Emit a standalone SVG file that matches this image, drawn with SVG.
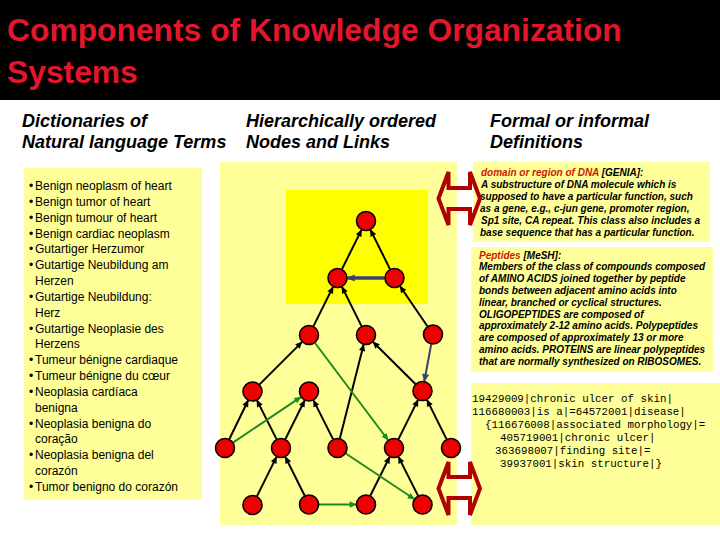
<svg xmlns="http://www.w3.org/2000/svg" width="720" height="540" viewBox="0 0 720 540">
<defs>
<style>
.title{font-family:"Liberation Sans",Arial,sans-serif;font-weight:bold;font-size:31.8px;fill:#e3162c}
.hdr{font-family:"Liberation Sans",Arial,sans-serif;font-weight:bold;font-style:italic;font-size:18px;fill:#000}
.lst{font-family:"Liberation Sans",Arial,sans-serif;font-size:12px;fill:#000}
.def{font-family:"Liberation Sans",Arial,sans-serif;font-weight:bold;font-style:italic;font-size:10px;fill:#000}
.defr{fill:#cc1a00}
.mono{font-family:"Liberation Mono","Courier New",monospace;font-size:10.8px;fill:#000}
.panel{fill:#ffff99}
.e{stroke:#000;stroke-width:2;fill:none;marker-end:url(#ak)}
.g{stroke:#1e8a1e;stroke-width:2;fill:none;marker-end:url(#ag)}
.b{stroke:#3c4070;stroke-width:2;fill:none;marker-end:url(#ab)}
.node circle{fill:#ee0000;stroke:#000;stroke-width:1.6}
.dbl{fill:none;stroke:#b00000;stroke-width:4;stroke-linejoin:miter}
</style>
<marker id="ak" viewBox="0 0 10 10" refX="9" refY="5" markerWidth="8" markerHeight="7" markerUnits="userSpaceOnUse" orient="auto"><path d="M0,0.5 L10,5 L0,9.5 z" fill="#000"/></marker>
<marker id="ag" viewBox="0 0 10 10" refX="9" refY="5" markerWidth="8" markerHeight="7" markerUnits="userSpaceOnUse" orient="auto"><path d="M0,0.5 L10,5 L0,9.5 z" fill="#1e8a1e"/></marker>
<marker id="ab" viewBox="0 0 10 10" refX="9" refY="5" markerWidth="9" markerHeight="8" markerUnits="userSpaceOnUse" orient="auto"><path d="M0,0.5 L10,5 L0,9.5 z" fill="#3c4070"/></marker>
</defs>
<rect x="0" y="0" width="720" height="540" fill="#fff"/>
<rect x="0" y="0" width="720" height="100" fill="#000"/>
<text class="title" x="7" y="41">Components of Knowledge Organization</text>
<text class="title" x="7" y="83">Systems</text>

<g id="headers">
<text class="hdr" x="22" y="127">Dictionaries of</text>
<text class="hdr" x="22" y="148">Natural language Terms</text>
<text class="hdr" x="246" y="127">Hierarchically ordered</text>
<text class="hdr" x="246" y="148">Nodes and Links</text>
<text class="hdr" x="490" y="127">Formal or informal</text>
<text class="hdr" x="490" y="148">Definitions</text>
</g>

<g id="terms">
<rect class="panel" x="24" y="168" width="178" height="332"/>
<g class="lst">
<text x="29" y="190">•</text><text x="35" y="190">Benign neoplasm of heart</text>
<text x="29" y="205.8">•</text><text x="35" y="205.8">Benign tumor of heart</text>
<text x="29" y="221.7">•</text><text x="35" y="221.7">Benign tumour of heart</text>
<text x="29" y="237.5">•</text><text x="35" y="237.5">Benign cardiac neoplasm</text>
<text x="29" y="253.4">•</text><text x="35" y="253.4">Gutartiger Herzumor</text>
<text x="29" y="269.2">•</text><text x="35" y="269.2">Gutartige Neubildung am</text>
<text x="35" y="285">Herzen</text>
<text x="29" y="300.9">•</text><text x="35" y="300.9">Gutartige Neubildung:</text>
<text x="35" y="316.7">Herz</text>
<text x="29" y="332.6">•</text><text x="35" y="332.6">Gutartige Neoplasie des</text>
<text x="35" y="348.4">Herzens</text>
<text x="29" y="364.2">•</text><text x="35" y="364.2">Tumeur bénigne cardiaque</text>
<text x="29" y="380.1">•</text><text x="35" y="380.1">Tumeur bénigne du cœur</text>
<text x="29" y="395.9">•</text><text x="35" y="395.9">Neoplasia cardíaca</text>
<text x="35" y="411.8">benigna</text>
<text x="29" y="427.6">•</text><text x="35" y="427.6">Neoplasia benigna do</text>
<text x="35" y="443.4">coração</text>
<text x="29" y="459.3">•</text><text x="35" y="459.3">Neoplasia benigna del</text>
<text x="35" y="475.1">corazón</text>
<text x="29" y="491">•</text><text x="35" y="491">Tumor benigno do corazón</text>
</g>
</g>

<g id="tree-panel">
<rect class="panel" x="220" y="162" width="237" height="363"/>
<rect x="286" y="190" width="142" height="114" fill="#ffff00"/>
</g>

<g id="def-genia">
<rect class="panel" x="473" y="162" width="237" height="80"/>
<text class="def" x="481" y="175.5"><tspan class="defr">domain or region of DNA</tspan> [GENIA]:</text>
<text class="def" x="481" y="187.5">A substructure of DNA molecule which is</text>
<text class="def" x="480" y="199.5">supposed to have a particular function, such</text>
<text class="def" x="480" y="211.5">as a gene, e.g., c-jun gene, promoter region,</text>
<text class="def" x="481" y="223.5">Sp1 site, CA repeat. This class also includes a</text>
<text class="def" x="480" y="235.5">base sequence that has a particular function.</text>
</g>

<g id="def-mesh">
<rect class="panel" x="471" y="247" width="242" height="125"/>
<text class="def" x="479" y="258.5"><tspan class="defr">Peptides</tspan> [MeSH]:</text>
<text class="def" x="479" y="270.3">Members of the class of compounds composed</text>
<text class="def" x="479" y="282.1">of AMINO ACIDS joined together by peptide</text>
<text class="def" x="479" y="293.9">bonds between adjacent amino acids into</text>
<text class="def" x="479" y="305.7">linear, branched or cyclical structures.</text>
<text class="def" x="479" y="317.5">OLIGOPEPTIDES are composed of</text>
<text class="def" x="479" y="329.3">approximately 2-12 amino acids. Polypeptides</text>
<text class="def" x="479" y="341.1">are composed of approximately 13 or more</text>
<text class="def" x="479" y="352.9">amino acids. PROTEINS are linear polypeptides</text>
<text class="def" x="479" y="364.7">that are normally synthesized on RIBOSOMES.</text>
</g>

<g id="def-snomed">
<rect class="panel" x="471" y="383" width="249" height="142"/>
<text class="mono" x="472" y="401.5">19429009|chronic ulcer of skin|</text>
<text class="mono" x="472" y="414.5">116680003|is a|=64572001|disease|</text>
<text class="mono" x="485" y="427.5">{116676008|associated morphology|=</text>
<text class="mono" x="500" y="440.5">405719001|chronic ulcer|</text>
<text class="mono" x="495" y="453.5">363698007|finding site|=</text>
<text class="mono" x="500" y="466.5">39937001|skin structure|}</text>
</g>

<g id="connectors">
<line class="e" x1="342" y1="269.1" x2="361.5" y2="229.9"/>
<line class="e" x1="390" y1="269.1" x2="370.5" y2="229.9"/>
<line x1="384.5" y1="278" x2="347.5" y2="278" stroke="#3c4070" stroke-width="3.5" marker-end="url(#ab)"/>
<line class="e" x1="313.5" y1="326.1" x2="333" y2="286.9"/>
<line class="e" x1="361.5" y1="326.1" x2="342" y2="286.9"/>
<line class="e" x1="427.4" y1="326.2" x2="400.1" y2="286.3"/>
<line class="b" x1="431.2" y1="344.3" x2="424.3" y2="381.2"/>
<line class="e" x1="259.6" y1="384.4" x2="301.9" y2="342.1"/>
<line class="e" x1="415.4" y1="384" x2="373.1" y2="342"/>
<line class="e" x1="229.4" y1="439" x2="248.1" y2="400.5"/>
<line class="e" x1="276.5" y1="439.1" x2="257" y2="400.4"/>
<line class="e" x1="285.4" y1="439" x2="304.6" y2="400.5"/>
<line class="e" x1="333" y1="439.1" x2="313.5" y2="400.4"/>
<line class="e" x1="339.9" y1="438.3" x2="363.6" y2="344.7"/>
<line class="e" x1="398.5" y1="439.1" x2="418" y2="399.9"/>
<line class="e" x1="446.5" y1="439.1" x2="427" y2="399.9"/>
<line class="e" x1="257" y1="496.1" x2="276.5" y2="456.9"/>
<line class="e" x1="304.6" y1="495.5" x2="285.4" y2="457"/>
<line class="e" x1="370.4" y1="495.5" x2="389.6" y2="457"/>
<line class="e" x1="418" y1="495.6" x2="398.5" y2="456.9"/>
<line class="g" x1="315" y1="343" x2="388" y2="440"/>
<line class="g" x1="233.3" y1="442.4" x2="300.7" y2="397.1"/>
<line class="g" x1="345.8" y1="453.5" x2="414.2" y2="499"/>
<line class="g" x1="319" y1="504.5" x2="356" y2="504.5"/>
<path class="dbl" d="M438.5,198.5 L448.5,172 L448.5,188 L470,188 L470,172 L480,198.5 L470,225 L470,209 L448.5,209 L448.5,225 Z"/>
<path class="dbl" d="M438.5,488.5 L448.5,462 L448.5,477 L470,477 L470,462 L480,488.5 L470,515 L470,498 L448.5,498 L448.5,515 Z"/>
</g>

<g id="n-t" class="node"><circle cx="366" cy="221" r="9.5"/></g>
<g id="n-a1" class="node"><circle cx="337.5" cy="278" r="9.5"/></g>
<g id="n-a2" class="node"><circle cx="394.5" cy="278" r="9.5"/></g>
<g id="n-b1" class="node"><circle cx="309" cy="335" r="9.5"/></g>
<g id="n-b2" class="node"><circle cx="366" cy="335" r="9.5"/></g>
<g id="n-b3" class="node"><circle cx="433" cy="334.5" r="9.5"/></g>
<g id="n-c1" class="node"><circle cx="252.5" cy="391.5" r="9.5"/></g>
<g id="n-c2" class="node"><circle cx="309" cy="391.5" r="9.5"/></g>
<g id="n-c3" class="node"><circle cx="422.5" cy="391" r="9.5"/></g>
<g id="n-d1" class="node"><circle cx="225" cy="448" r="9.5"/></g>
<g id="n-d2" class="node"><circle cx="281" cy="448" r="9.5"/></g>
<g id="n-d3" class="node"><circle cx="337.5" cy="448" r="9.5"/></g>
<g id="n-d4" class="node"><circle cx="394" cy="448" r="9.5"/></g>
<g id="n-d5" class="node"><circle cx="451" cy="448" r="9.5"/></g>
<g id="n-e1" class="node"><circle cx="252.5" cy="505" r="9.5"/></g>
<g id="n-e2" class="node"><circle cx="309" cy="504.5" r="9.5"/></g>
<g id="n-e3" class="node"><circle cx="366" cy="504.5" r="9.5"/></g>
<g id="n-e4" class="node"><circle cx="422.5" cy="504.5" r="9.5"/></g>
</svg>
